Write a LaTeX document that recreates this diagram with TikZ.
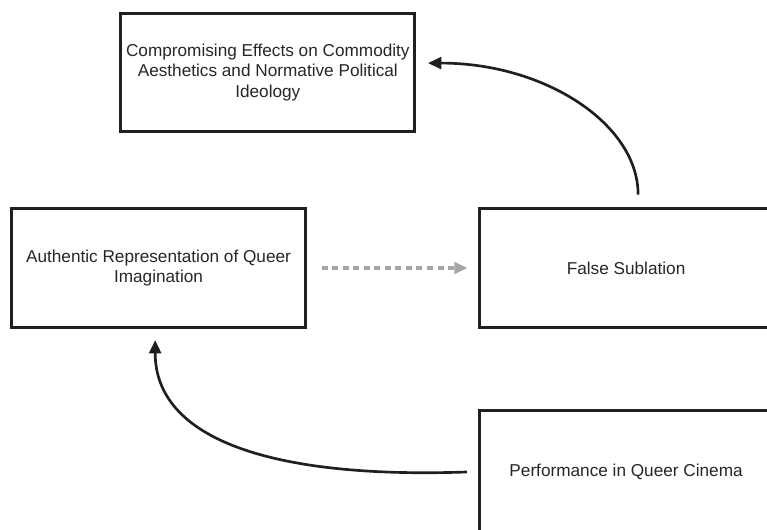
\documentclass[tikz,border=0pt]{standalone}
\usepackage{fontspec}
\setmainfont{Liberation Sans}
\usetikzlibrary{arrows.meta, positioning}

\begin{document}
\begin{tikzpicture}[
        x=0.75pt, y=0.75pt,
        % Global Styles
        box/.style={rectangle, draw=black!88, line width=2.2pt, minimum width=220.5pt, minimum height=89pt, align=center, text=black!85, font=\fontsize{12.9}{15.6}\selectfont},
        line/.style={draw=black!88, line width=2pt, -{Triangle[length=10pt, width=9pt]}}, % Curved Arrow
        dashline/.style={draw=black!35, line width=3pt, dash pattern=on 4.5pt off 3.4pt, -{Triangle[length=10pt, width=8.5pt]}} % Grey Dashed Arrow
    ]

    \useasboundingbox (0,0) rectangle (767,-529);
    \clip (0,0) rectangle (767,-529);

    % --- Nodes ---
    \node [box] (authentic) at (158.5,-268) {Authentic Representation of Queer\\Imagination};
    \node [box, right=128pt of authentic] (sublation) {False Sublation};
    \node [box, above=55.5pt of authentic, xshift=82pt] (effects) {Compromising Effects on Commodity\\Aesthetics and Normative Political\\Ideology};
    \node [box, below=60.5pt of sublation, minimum height=91pt] (performance) {Performance in Queer Cinema};

    % --- Paths ---
    \draw [dashline, shorten <=11pt, shorten >=7.5pt] (authentic) -- (sublation);
    \draw [line, shorten <=9.5pt, shorten >=8.8pt] ([xshift=9pt]sublation.north) to [out=90, in=0, out distance=62pt, in distance=97pt] ([yshift=7pt]effects.east);
    \draw [line, shorten <=8pt, shorten >=8.5pt] (performance.west) to [out=182, in=270, out distance=157pt, in distance=82pt] ([xshift=-2.5pt]authentic.south);

\end{tikzpicture}
\end{document}
